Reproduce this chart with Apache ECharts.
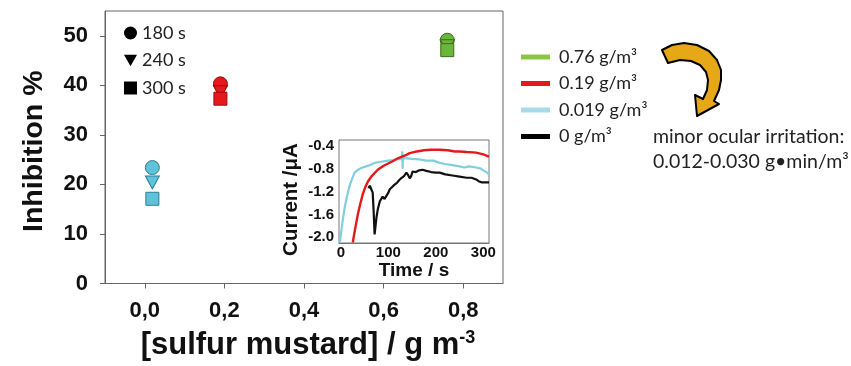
<!DOCTYPE html>
<html>
<head>
<meta charset="utf-8">
<script src="https://cdn.jsdelivr.net/npm/echarts@6/dist/echarts.min.js"></script>
<style>html,body{margin:0;padding:0;background:#fff}#c{width:851px;height:366px}</style>
</head>
<body>
<div id="c"></div>
<script>
// ---- main chart data ----
const timeLabels = ['180 s', '240 s', '300 s'];
const concentrations = [0.019, 0.19, 0.76];
const inhib180 = [23.4, 40.3, 49.1];
const inhib240 = [20.4, 38.6, 47.9];
const inhib300 = [17.1, 37.3, 47.1];
const xTicks = [0, 0.2, 0.4, 0.6, 0.8];
const yTicks = [0, 10, 20, 30, 40, 50];

// ---- inset data ----
const insetLabels = ['0.76 g/m³', '0.19 g/m³', '0.019 g/m³', '0 g/m³'];
const insetXTicks = [0, 100, 200, 300];
const insetYTicks = [-2.0, -1.6, -1.2, -0.8, -0.4];
const cyanT = [-2, 3, 8, 13, 19, 24, 29, 36, 43, 50, 60, 71, 85, 99, 110, 120, 128, 129.5, 130, 130.5, 132, 140, 150, 165, 180, 195, 208, 220, 235, 250, 260, 270, 285, 295, 300, 308, 312];
const cyanI = [-2.09, -1.75, -1.48, -1.28, -1.08, -0.97, -0.87, -0.82, -0.79, -0.77, -0.74, -0.70, -0.68, -0.66, -0.65, -0.64, -0.63, -0.50, -0.80, -0.62, -0.62, -0.62, -0.63, -0.64, -0.66, -0.66, -0.70, -0.72, -0.74, -0.76, -0.78, -0.76, -0.78, -0.80, -0.83, -0.87, -0.90];
const redT = [25, 30, 35.7, 41, 46, 51, 56.6, 65, 77.6, 90, 107, 120, 138, 145, 160, 175, 190, 208, 225, 240, 250, 265, 285, 300, 308, 312];
const redI = [-2.09, -1.85, -1.6, -1.41, -1.25, -1.13, -1.03, -0.93, -0.82, -0.75, -0.68, -0.62, -0.56, -0.53, -0.50, -0.48, -0.47, -0.47, -0.48, -0.50, -0.50, -0.51, -0.52, -0.55, -0.58, -0.59];
const blackT = [58, 61, 64, 67, 69, 71, 73, 75, 78, 82, 85, 88, 92, 96, 100, 103, 108, 113, 118, 123, 128, 133, 138, 142, 145, 148, 151, 158, 165, 172, 180, 190, 200, 208, 220, 235, 250, 265, 275, 285, 290, 292, 296, 300, 305, 308, 312];
const blackI = [-1.14, -1.10, -1.16, -1.22, -1.55, -1.95, -1.80, -1.65, -1.50, -1.37, -1.40, -1.29, -1.33, -1.30, -1.22, -1.16, -1.12, -1.08, -1.05, -1.00, -0.96, -0.93, -0.87, -0.92, -0.97, -0.93, -0.85, -0.86, -0.83, -0.82, -0.84, -0.86, -0.87, -0.87, -0.90, -0.92, -0.94, -0.96, -0.96, -0.99, -1.02, -1.05, -1.04, -1.07, -1.04, -1.05, -1.04];

// ---- styles ----
const markerFill = ['#5EC2DA', '#E3191C', '#6BB53A'];
const markerBorder = ['#2D7C90', '#9A0D0D', '#3A6B1E'];
const lineColors = ['#8CC63F', '#E3191C', '#7FCFE0', '#111111'];
const legendColors = ['#8CC63F', '#E3191C', '#A9DAE8', '#000000'];
const AX = 'Liberation Sans, Arial, sans-serif';
const TXT = 'Lato, sans-serif';

function pts(xs, ys) { return xs.map((x, i) => [x, ys[i]]); }
function markerData(vals) {
  return concentrations.map((c, i) => ({
    value: [c, vals[i]],
    itemStyle: { color: markerFill[i], borderColor: markerBorder[i], borderWidth: 1, opacity: 1 }
  }));
}
const downTri = 'path://M0,0 L10,0 L5,9 Z';

const arrowShape = [[662,50],[672,45],[684,43],[697,45],[709,51],[717,60],[721,70],[721,80],[719,90],[714,101],
  [719,104],[697,116],[695,95],[703,99],[707,90],[708,80],[706,72],[700,65],[691,61],[680,60],[668,63]];

const chart = echarts.init(document.getElementById('c'), null, { renderer: 'canvas' });
chart.setOption({
  animation: false,
  backgroundColor: '#fff',
  grid: [
    { left: 105, top: 11, width: 398, height: 273, show: true, borderColor: '#666', borderWidth: 1, backgroundColor: 'transparent' },
    { left: 339, top: 140, width: 150, height: 103, show: true, borderColor: '#777', borderWidth: 1, backgroundColor: '#fff', z: 5 }
  ],
  xAxis: [
    {
      gridIndex: 0, type: 'value', min: -0.1, max: 0.9,
      name: '[sulfur mustard] / g m{sup|-3}', nameLocation: 'middle', nameGap: 46,
      nameTextStyle: { fontFamily: AX, fontWeight: 'bold', fontSize: 31, color: '#111', padding: [0, 0, 0, 8],
        rich: { sup: { fontFamily: AX, fontWeight: 'bold', fontSize: 18, color: '#111', verticalAlign: 'top', padding: [0, 0, 14, 0] } } },
      axisLine: { onZero: false, lineStyle: { color: '#666' } },
      axisTick: { show: true, length: 5, customValues: xTicks, lineStyle: { color: '#666' } },
      axisLabel: { customValues: xTicks, margin: 16, fontFamily: AX, fontWeight: 'bold', fontSize: 22, color: '#111',
        formatter: v => v.toFixed(1).replace('.', ',') },
      splitLine: { show: false }
    },
    {
      gridIndex: 1, type: 'value', min: -4, max: 312,
      name: 'Time / s', nameLocation: 'middle', nameGap: 17,
      nameTextStyle: { fontFamily: AX, fontWeight: 'bold', fontSize: 19, color: '#111' },
      axisLine: { onZero: false, lineStyle: { color: '#777' } },
      axisTick: { show: false, customValues: insetXTicks },
      axisLabel: { customValues: insetXTicks, margin: 2, fontFamily: AX, fontWeight: 'bold', fontSize: 15, color: '#111' },
      splitLine: { show: false }
    }
  ],
  yAxis: [
    {
      gridIndex: 0, type: 'value', min: 0, max: 55,
      name: 'Inhibition %', nameLocation: 'middle', nameGap: 56,
      nameTextStyle: { fontFamily: AX, fontWeight: 'bold', fontSize: 28.5, color: '#111', padding: [0, 8, 0, 0] },
      axisLine: { show: true, onZero: false, lineStyle: { color: '#666' } },
      axisTick: { show: true, length: 5, customValues: yTicks, lineStyle: { color: '#666' } },
      axisLabel: { customValues: yTicks, margin: 17, fontFamily: AX, fontWeight: 'bold', fontSize: 22, color: '#111' },
      splitLine: { show: false }
    },
    {
      gridIndex: 1, type: 'value', min: -2.1, max: -0.3,
      name: 'Current /μA', nameLocation: 'middle', nameGap: 37,
      nameTextStyle: { fontFamily: AX, fontWeight: 'bold', fontSize: 20.5, color: '#111', padding: [0, 16, 0, 0] },
      axisLine: { show: true, onZero: false, lineStyle: { color: '#777' } },
      axisTick: { show: false, customValues: insetYTicks },
      axisLabel: { customValues: insetYTicks, margin: 5, fontFamily: AX, fontWeight: 'bold', fontSize: 15, color: '#111',
        formatter: v => v.toFixed(1) },
      splitLine: { show: false }
    }
  ],
  legend: [
    {
      data: timeLabels.map((n, i) => ({ name: n, icon: i === 0 ? 'circle' : (i === 1 ? downTri : 'rect') })),
      orient: 'vertical', left: 124, top: 24, padding: 0, itemWidth: 13, itemHeight: 13, itemGap: 9.5,
      textStyle: { fontFamily: TXT, fontSize: 18, color: '#222' },
      selectedMode: false
    },
    {
      data: insetLabels.map(n => ({ name: n, icon: 'rect' })),
      orient: 'vertical', left: 521, top: 48, padding: 0, itemWidth: 29, itemHeight: 5, itemGap: 8.5,
      textStyle: { fontFamily: TXT, fontSize: 18, color: '#222', padding: [0, 0, 0, 4] },
      selectedMode: false
    }
  ],
  series: [
    { name: timeLabels[0], type: 'scatter', xAxisIndex: 0, yAxisIndex: 0, symbol: 'circle', symbolSize: 14, itemStyle: { color: '#000', opacity: 1 }, data: markerData(inhib180), z: 3 },
    { name: timeLabels[1], type: 'scatter', xAxisIndex: 0, yAxisIndex: 0, symbol: downTri, symbolSize: [14, 13], itemStyle: { color: '#000', opacity: 1 }, data: markerData(inhib240), z: 3 },
    { name: timeLabels[2], type: 'scatter', xAxisIndex: 0, yAxisIndex: 0, symbol: 'rect', symbolSize: 13, itemStyle: { color: '#000', opacity: 1 }, data: markerData(inhib300), z: 3 },
    { name: insetLabels[0], type: 'line', xAxisIndex: 1, yAxisIndex: 1, data: [], itemStyle: { color: legendColors[0] }, lineStyle: { color: lineColors[0] } },
    { name: insetLabels[1], type: 'line', xAxisIndex: 1, yAxisIndex: 1, data: pts(redT, redI), showSymbol: false, z: 7,
      itemStyle: { color: legendColors[1] }, lineStyle: { color: lineColors[1], width: 2.4 } },
    { name: insetLabels[2], type: 'line', xAxisIndex: 1, yAxisIndex: 1, data: pts(cyanT, cyanI), showSymbol: false, z: 6,
      itemStyle: { color: legendColors[2] }, lineStyle: { color: lineColors[2], width: 2.2 } },
    { name: insetLabels[3], type: 'line', xAxisIndex: 1, yAxisIndex: 1, data: pts(blackT, blackI), showSymbol: false, z: 6,
      itemStyle: { color: legendColors[3] }, lineStyle: { color: lineColors[3], width: 2.2 } }
  ],
  graphic: [
    { type: 'polygon', z: 20, shape: { points: arrowShape },
      style: { fill: '#E6A817', stroke: '#000', lineWidth: 2, lineJoin: 'round' } },
    { type: 'text', left: 653, top: 127, z: 20,
      style: { text: 'minor ocular irritation:', font: '19.5px Lato, sans-serif', fill: '#222' } },
    { type: 'text', left: 653, top: 152, z: 20,
      style: { text: '0.012-0.030 g•min/m³', font: '19.5px Lato, sans-serif', fill: '#222' } }
  ]
});
</script>
</body>
</html>
